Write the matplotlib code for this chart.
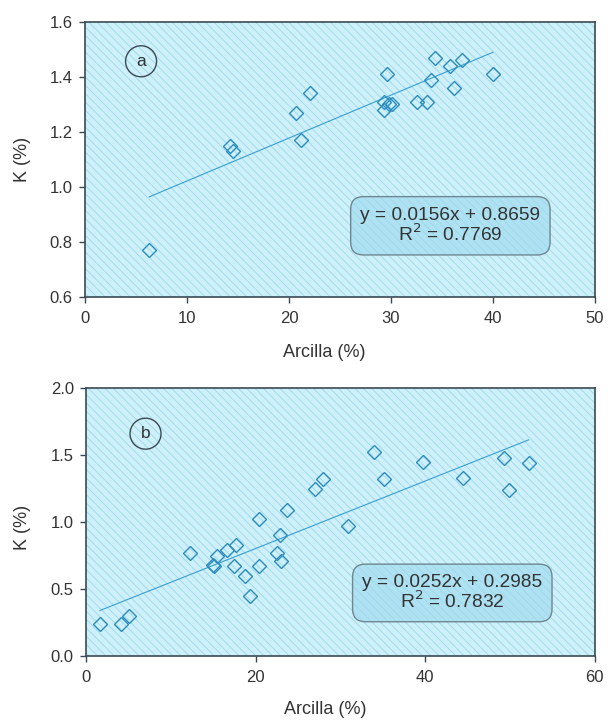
import matplotlib
matplotlib.use("Agg")
import matplotlib.pyplot as plt
from matplotlib.patches import FancyBboxPatch, Ellipse

plt.rcParams['font.family'] = ['Liberation Sans', 'DejaVu Sans']
plt.rcParams['hatch.linewidth'] = 0.6

# panel a: clay vs K
arcilla_a = [6.3, 14.2, 14.5, 20.7, 21.2, 22.1, 29.6, 29.3, 29.3, 29.8, 30.1,
             32.6, 33.5, 33.9, 34.3, 35.8, 37.0, 36.2, 40.0]
k_a = [0.77, 1.15, 1.13, 1.27, 1.17, 1.34, 1.41, 1.31, 1.28, 1.30, 1.30,
       1.31, 1.31, 1.39, 1.47, 1.44, 1.46, 1.36, 1.41]
fit_a = (0.0156, 0.8659, 0.7769)

# panel b
arcilla_b = [1.65, 4.1, 5.1, 12.3, 15.0, 15.1, 15.4, 16.6, 17.65, 17.4, 18.7,
             19.3, 20.4, 20.4, 22.5, 22.9, 23.0, 23.7, 27.0, 28.0, 30.9, 34.0,
             35.1, 39.7, 44.5, 49.3, 49.9, 52.2]
k_b = [0.24, 0.24, 0.30, 0.77, 0.68, 0.67, 0.75, 0.79, 0.83, 0.67, 0.60,
       0.45, 1.02, 0.67, 0.77, 0.90, 0.71, 1.09, 1.25, 1.32, 0.97, 1.52,
       1.32, 1.45, 1.33, 1.48, 1.24, 1.44]
fit_b = (0.0252, 0.2985, 0.7832)

BG = '#cdf0fa'
HATCH = '#9ed7e9'
BLUE = '#2b8cc0'
DARK = '#3b4a52'
TXT = '#333333'

fig = plt.figure(figsize=(6.10, 7.22), dpi=100)

panels = [
    dict(pos=[0.1393, 0.5886, 0.836, 0.381], x=arcilla_a, y=k_a, fit=fit_a,
         xlim=(0, 50), xt=[0, 10, 20, 30, 40, 50], ylim=(0.6, 1.6),
         yt=[0.6, 0.8, 1.0, 1.2, 1.4, 1.6], tag='a',
         tagpos=(0.110, 0.857), box=(0.521, 0.153, 0.391, 0.212),
         xlab=(0.47, -0.172), ylab=(-0.106, 0.5)),
    dict(pos=[0.141, 0.0914, 0.834, 0.371], x=arcilla_b, y=k_b, fit=fit_b,
         xlim=(0, 60), xt=[0, 20, 40, 60], ylim=(0.0, 2.0),
         yt=[0.0, 0.5, 1.0, 1.5, 2.0], tag='b',
         tagpos=(0.117, 0.830), box=(0.524, 0.128, 0.392, 0.215),
         xlab=(0.47, -0.168), ylab=(-0.108, 0.48)),
]

for p in panels:
    ax = fig.add_axes(p['pos'])
    ax.set_facecolor(BG)
    ax.patch.set_hatch('\\\\\\\\')
    ax.patch.set_edgecolor(HATCH)

    ax.plot(p['x'], p['y'], linestyle='none', marker='D', markersize=6.8,
            markerfacecolor='none', markeredgecolor=BLUE, markeredgewidth=1.0,
            zorder=4)

    m, b, r2 = p['fit']
    x0, x1 = min(p['x']), max(p['x'])
    ax.plot([x0, x1], [m * x0 + b, m * x1 + b], color='#3a9fd2', lw=0.8,
            zorder=3)

    ax.set_xlim(*p['xlim'])
    ax.set_ylim(*p['ylim'])
    ax.set_xticks(p['xt'])
    ax.set_yticks(p['yt'])
    ax.set_yticklabels([f'{v:.1f}' for v in p['yt']])
    ax.tick_params(direction='out', length=4.3, width=1, color=DARK,
                   labelsize=12, labelcolor=TXT)
    ax.tick_params(axis='x', pad=6)
    ax.tick_params(axis='y', pad=4.5)
    for s in ax.spines.values():
        s.set_color(DARK)
        s.set_linewidth(1.2)
    ax.set_xlabel('Arcilla (%)', fontsize=13, color=TXT, va='top')
    ax.set_ylabel('K (%)', fontsize=13, color=TXT)
    ax.xaxis.set_label_coords(*p['xlab'])
    ax.yaxis.set_label_coords(*p['ylab'])

    # equation box
    bx, by, bw, bh = p['box']
    w_px = p['pos'][2] * 610
    h_px = p['pos'][3] * 722
    asp = w_px / h_px
    fill = FancyBboxPatch((bx, by), bw, bh, transform=ax.transAxes,
                          boxstyle='round,pad=0,rounding_size=0.025',
                          mutation_aspect=asp, facecolor='#aee2f3',
                          edgecolor=HATCH, linewidth=0, hatch='\\\\\\\\',
                          zorder=5)
    edge = FancyBboxPatch((bx, by), bw, bh, transform=ax.transAxes,
                          boxstyle='round,pad=0,rounding_size=0.025',
                          mutation_aspect=asp, facecolor='none',
                          edgecolor='#6f8790', linewidth=1.0, zorder=6)
    ax.add_patch(fill)
    ax.add_patch(edge)
    ax.text(bx + bw / 2, by + bh / 2,
            f'y = {m:.4f}x + {b:.4f}\nR$^2$ = {r2:.4f}',
            transform=ax.transAxes, ha='center', va='center',
            fontsize=13.8, color=TXT, linespacing=0.95, zorder=7)

    # panel tag
    tx, ty = p['tagpos']
    ax.add_patch(Ellipse((tx, ty), 31 / w_px, 31 / h_px,
                         transform=ax.transAxes, facecolor='none',
                         edgecolor=DARK, linewidth=1.0, zorder=6))
    ax.text(tx, ty, p['tag'], transform=ax.transAxes, ha='center',
            va='center', fontsize=12.5, color=TXT, zorder=7)

fig.savefig('out.png', dpi=100)
